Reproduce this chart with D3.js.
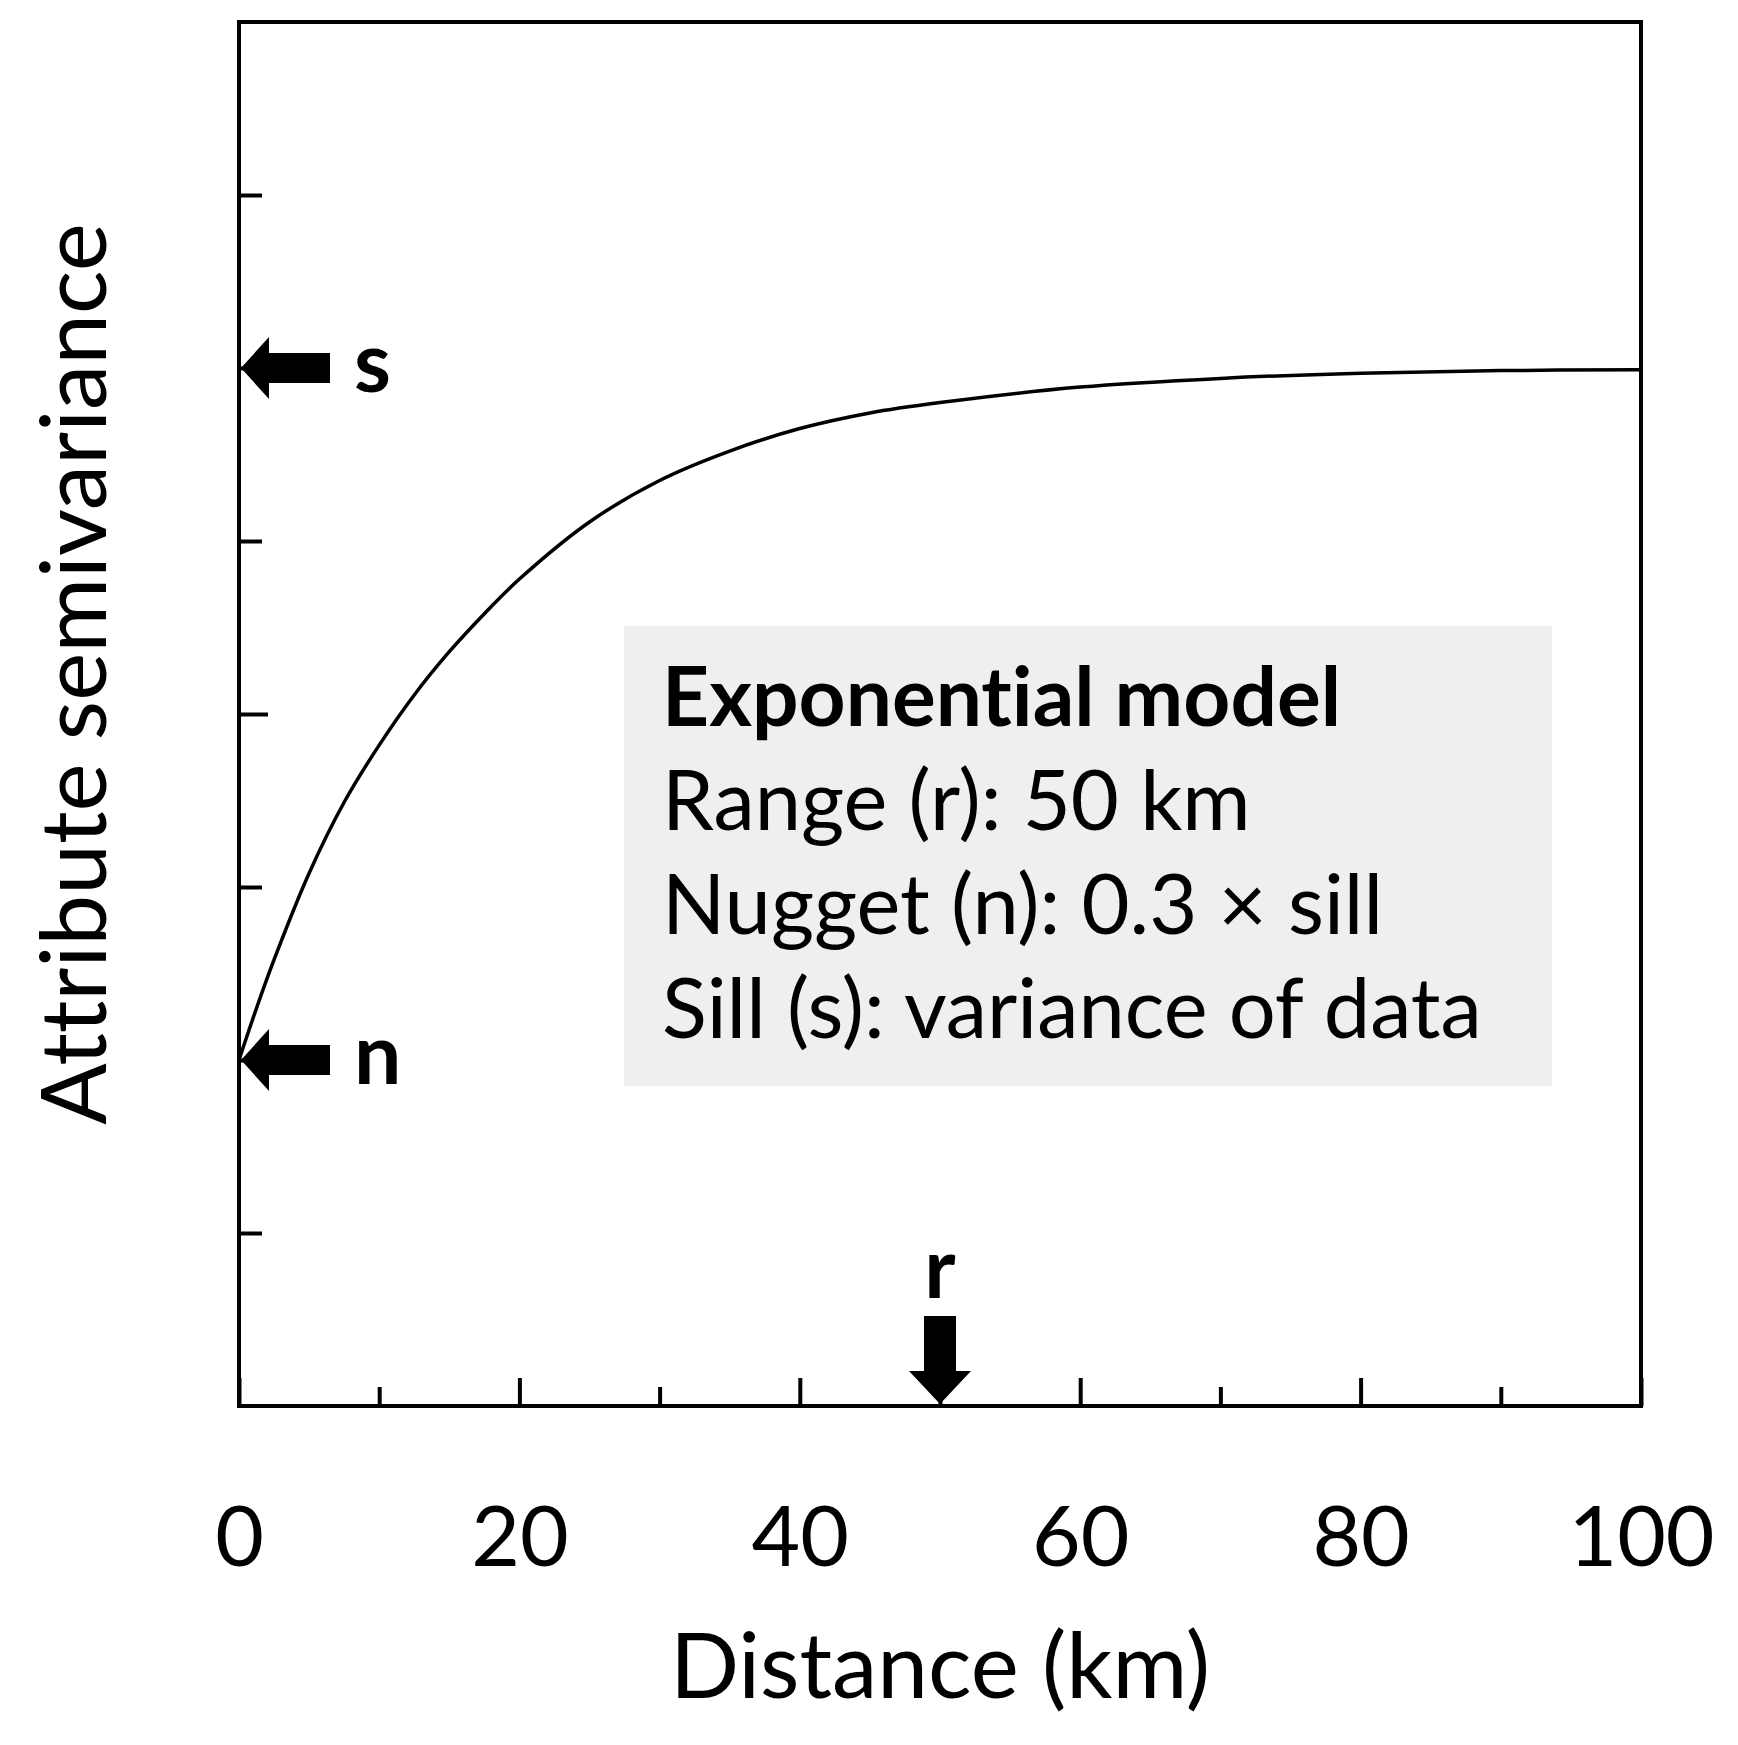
<!DOCTYPE html>
<html>
<head>
<meta charset="utf-8">
<script src="https://cdn.jsdelivr.net/npm/d3@7"></script>
<style>
  body { margin: 0; background: #fff; }
  svg { display: block; font-family: Lato, "Open Sans", sans-serif; font-variant-ligatures: none; }
</style>
</head>
<body>
<div id="chart"></div>
<script>
// Data
//-----------
var distance = [0, 1.25, 2.5, 5, 7.5, 10, 12.5, 15, 17.5, 20, 25, 30, 35, 40, 45, 50, 60, 70, 80, 90, 100];
var semivariance = [2.0, 2.3, 2.58, 3.08, 3.49, 3.82, 4.11, 4.36, 4.58, 4.78, 5.11, 5.35, 5.52, 5.65, 5.74, 5.8, 5.89, 5.94, 5.97, 5.985, 5.99];
var xTickLabels = [0, 20, 40, 60, 80, 100];
var xMinorTicks = [10, 30, 50, 70, 90];
var yMajorTicks = [2, 4, 6];
var yMinorTicks = [1, 3, 5, 7];
var sill = 6;
var nugget = 2;
var rangeKm = 50;
var boxLines = ["Exponential model", "Range (r): 50 km", "Nugget (n): 0.3 \u00d7 sill", "Sill (s): variance of data"];

// Layout
//-----------
var W = 1738, H = 1745;
var mLeft = 239, mTop = 22, mRight = 1641, mBottom = 1406;

var svg = d3.select("#chart").append("svg")
  .attr("width", W)
  .attr("height", H);

var x = d3.scaleLinear([0, 100], [mLeft, mRight]);
var y = d3.scaleLinear([0, 8], [mBottom, mTop]);

// Axes (ticks point inward)
//-----------
var xMajor = svg.append("g")
  .attr("transform", "translate(0," + mBottom + ")")
  .call(d3.axisBottom(x).tickValues(xTickLabels).tickSizeInner(-28).tickSizeOuter(0).tickPadding(100));
var xMinor = svg.append("g")
  .attr("transform", "translate(0," + mBottom + ")")
  .call(d3.axisBottom(x).tickValues(xMinorTicks).tickSizeInner(-19).tickSizeOuter(0).tickFormat(""));
var yMajor = svg.append("g")
  .attr("transform", "translate(" + mLeft + ",0)")
  .call(d3.axisLeft(y).tickValues(yMajorTicks).tickSizeInner(-29).tickSizeOuter(0).tickFormat(""));
var yMinor = svg.append("g")
  .attr("transform", "translate(" + mLeft + ",0)")
  .call(d3.axisLeft(y).tickValues(yMinorTicks).tickSizeInner(-23).tickSizeOuter(0).tickFormat(""));

svg.selectAll(".domain").remove();
svg.selectAll(".tick line").attr("stroke", "#000").attr("stroke-width", 4);
xMajor.selectAll("text")
  .attr("font-size", "84px")
  .attr("fill", "#000")
  .attr("font-family", "Lato, sans-serif");

// Frame
svg.append("rect")
  .attr("x", mLeft).attr("y", mTop)
  .attr("width", mRight - mLeft).attr("height", mBottom - mTop)
  .attr("fill", "none")
  .attr("stroke", "#000")
  .attr("stroke-width", 4);

// Info box
//-----------
svg.append("rect")
  .attr("x", 624).attr("y", 626)
  .attr("width", 928).attr("height", 460)
  .attr("fill", "#efefef");

svg.selectAll(".boxline")
  .data(boxLines)
  .enter()
  .append("text")
  .attr("class", "boxline")
  .text(function(d) { return d; })
  .attr("x", 662)
  .attr("y", function(d, i) { return 726 + i * 104; })
  .attr("font-size", function(d, i) { return i === 0 ? "82px" : "83px"; })
  .attr("font-weight", function(d, i) { return i === 0 ? "bold" : "normal"; })
  .attr("fill", "#000");

// Curve
//-----------
var line = d3.line()
  .x(function(d, i) { return x(distance[i]); })
  .y(function(d) { return y(d); })
  .curve(d3.curveCatmullRom.alpha(0.5));

svg.append("path")
  .datum(semivariance)
  .attr("d", line)
  .attr("fill", "none")
  .attr("stroke", "#000")
  .attr("stroke-width", 3.5);

// Arrows: s, n on the y axis, r on the x axis
//-----------
function leftArrow(px, py) {
  return "M" + px + "," + py +
    "L" + (px + 28) + "," + (py - 31) +
    "L" + (px + 28) + "," + (py - 15) +
    "L" + (px + 89) + "," + (py - 15) +
    "L" + (px + 89) + "," + (py + 15) +
    "L" + (px + 28) + "," + (py + 15) +
    "L" + (px + 28) + "," + (py + 31) + "Z";
}
function downArrow(px, py) {
  return "M" + px + "," + py +
    "L" + (px - 31) + "," + (py - 33) +
    "L" + (px - 16) + "," + (py - 33) +
    "L" + (px - 16) + "," + (py - 88) +
    "L" + (px + 16) + "," + (py - 88) +
    "L" + (px + 16) + "," + (py - 33) +
    "L" + (px + 31) + "," + (py - 33) + "Z";
}

var marks = [
  {label: "s", value: sill},
  {label: "n", value: nugget}
];
svg.selectAll(".yarrow")
  .data(marks)
  .enter()
  .append("path")
  .attr("class", "yarrow")
  .attr("d", function(d) { return leftArrow(x(0) + 2, y(d.value)); })
  .attr("fill", "#000");
svg.selectAll(".ylab")
  .data(marks)
  .enter()
  .append("text")
  .attr("class", "ylab")
  .text(function(d) { return d.label; })
  .attr("x", x(0) + 115)
  .attr("y", function(d) { return y(d.value) + 24; })
  .attr("font-size", "84px")
  .attr("font-weight", "bold")
  .attr("fill", "#000");

svg.append("path")
  .attr("d", downArrow(x(rangeKm), mBottom - 2))
  .attr("fill", "#000");
svg.append("text")
  .text("r")
  .attr("x", x(rangeKm))
  .attr("y", mBottom - 108)
  .attr("text-anchor", "middle")
  .attr("font-size", "84px")
  .attr("font-weight", "bold")
  .attr("fill", "#000");

// Axis titles
//-----------
svg.append("text")
  .text("Distance (km)")
  .attr("x", (mLeft + mRight) / 2)
  .attr("y", 1698)
  .attr("text-anchor", "middle")
  .attr("font-size", "91px")
  .attr("fill", "#000");

svg.append("text")
  .text("Attribute semivariance")
  .attr("transform", "translate(106,674) rotate(-90)")
  .attr("text-anchor", "middle")
  .attr("font-size", "91px")
  .attr("fill", "#000");
</script>
</body>
</html>
